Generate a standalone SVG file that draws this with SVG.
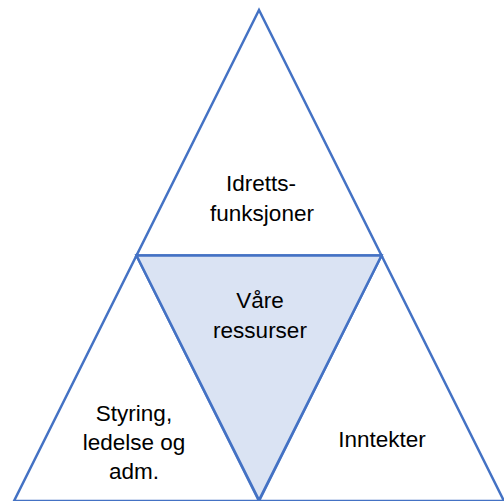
<svg xmlns="http://www.w3.org/2000/svg" width="504" height="501" viewBox="0 0 504 501">
<style>
.tri{fill:#FFFFFF;stroke:#4472C4;stroke-width:2.5;stroke-linejoin:miter}
.mid{fill:#DAE3F3;stroke:#4472C4;stroke-width:2.5}
text{font-family:"Liberation Sans",Arial,sans-serif;font-size:22.5px;fill:#000;text-anchor:middle}
</style>
<rect width="504" height="501" fill="#FFFFFF"/>
<g id="connectors">
<line x1="14" y1="500" x2="504" y2="500" stroke="#8FAADC" stroke-width="2"/>
</g>
<g id="top">
<polygon class="tri" points="259,10 136.5,255.5 381.5,255.5"/>
<text x="261" y="191">Idretts-</text>
<text x="262" y="221">funksjoner</text>
</g>
<g id="left">
<polygon class="tri" points="136.5,255.5 14,501 259,501"/>
<text x="134" y="421">Styring,</text>
<text x="134" y="450">ledelse og</text>
<text x="134" y="479">adm.</text>
</g>
<g id="right">
<polygon class="tri" points="381.5,255.5 259,501 504,501"/>
<text x="382" y="447">Inntekter</text>
</g>
<g id="center">
<polygon class="mid" points="136.5,255.5 381.5,255.5 259,500"/>
<text x="260" y="308">Våre</text>
<text x="260" y="338">ressurser</text>
</g>
</svg>
